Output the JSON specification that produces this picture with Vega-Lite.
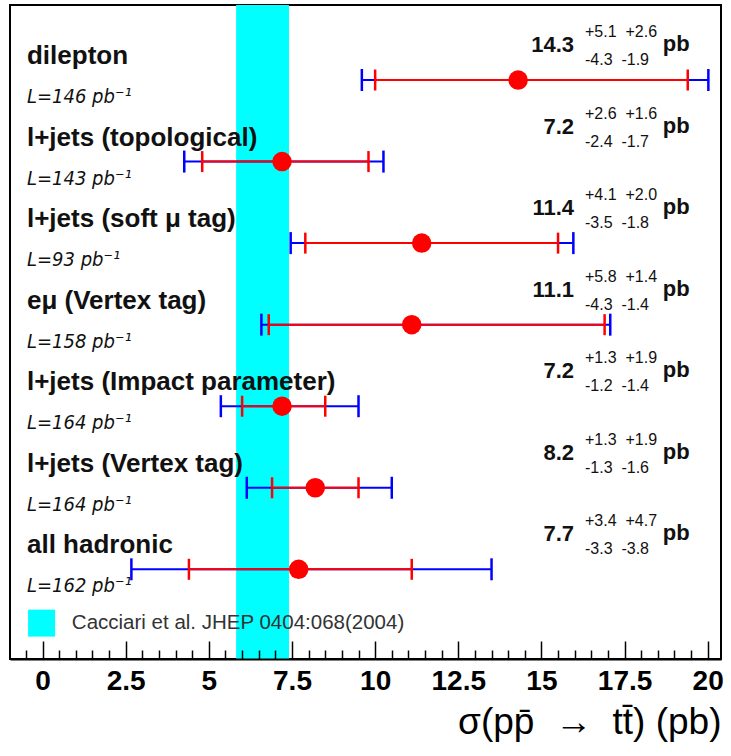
{
  "$schema": "https://vega.github.io/schema/vega-lite/v6.json",
  "width": 711,
  "height": 654,
  "autosize": {"type": "none"},
  "padding": {"left": 10, "top": 5, "right": 10, "bottom": 97},
  "background": "white",
  "config": {"view": {"stroke": "black", "strokeWidth": 2}, "font": "Liberation Sans"},
  "datasets": {
    "meas": [
      {"name": "dilepton", "lumi": "L=146 pb⁻¹", "row": 1, "sigma": 14.3, "up": "+5.1\u00a0\u00a0+2.6", "dn": "-4.3\u00a0\u00a0-1.9", "statlo": 10.0, "stathi": 19.4, "totlo": 9.6, "tothi": 20.02},
      {"name": "l+jets (topological)", "lumi": "L=143 pb⁻¹", "row": 2, "sigma": 7.2, "up": "+2.6\u00a0\u00a0+1.6", "dn": "-2.4\u00a0\u00a0-1.7", "statlo": 4.8, "stathi": 9.8, "totlo": 4.26, "tothi": 10.25},
      {"name": "l+jets (soft μ tag)", "lumi": "\u00a0L=93 pb⁻¹", "row": 3, "sigma": 11.4, "up": "+4.1\u00a0\u00a0+2.0", "dn": "-3.5\u00a0\u00a0-1.8", "statlo": 7.9, "stathi": 15.5, "totlo": 7.46, "tothi": 15.96},
      {"name": "eμ (Vertex tag)", "lumi": "L=158 pb⁻¹", "row": 4, "sigma": 11.1, "up": "+5.8\u00a0\u00a0+1.4", "dn": "-4.3\u00a0\u00a0-1.4", "statlo": 6.8, "stathi": 16.9, "totlo": 6.58, "tothi": 17.07},
      {"name": "l+jets (Impact parameter)", "lumi": "L=164 pb⁻¹", "row": 5, "sigma": 7.2, "up": "+1.3\u00a0\u00a0+1.9", "dn": "-1.2\u00a0\u00a0-1.4", "statlo": 6.0, "stathi": 8.5, "totlo": 5.36, "tothi": 9.5},
      {"name": "l+jets (Vertex tag)", "lumi": "L=164 pb⁻¹", "row": 6, "sigma": 8.2, "up": "+1.3\u00a0\u00a0+1.9", "dn": "-1.3\u00a0\u00a0-1.6", "statlo": 6.9, "stathi": 9.5, "totlo": 6.14, "tothi": 10.5},
      {"name": "all hadronic", "lumi": "L=162 pb⁻¹", "row": 7, "sigma": 7.7, "up": "+3.4\u00a0\u00a0+4.7", "dn": "-3.3\u00a0\u00a0-3.8", "statlo": 4.4, "stathi": 11.1, "totlo": 2.67, "tothi": 13.5}
    ],
    "band": [
      {"label": "Cacciari et al. JHEP 0404:068(2004)", "lo": 5.82, "hi": 7.41}
    ]
  },
  "encoding": {
    "x": {
      "type": "quantitative",
      "scale": {"domain": [-0.98, 20.4], "nice": false, "zero": false},
      "axis": {
        "orient": "bottom",
        "values": [-0.5, 0, 0.5, 1, 1.5, 2, 2.5, 3, 3.5, 4, 4.5, 5, 5.5, 6, 6.5, 7, 7.5, 8, 8.5, 9, 9.5, 10, 10.5, 11, 11.5, 12, 12.5, 13, 13.5, 14, 14.5, 15, 15.5, 16, 16.5, 17, 17.5, 18, 18.5, 19, 19.5, 20],
        "tickSize": {"condition": {"test": "datum.value % 2.5 === 0", "value": -18}, "value": -9},
        "tickColor": "black",
        "tickWidth": 1.5,
        "domainColor": "black",
        "domainWidth": 2,
        "grid": false,
        "labelExpr": "datum.value % 2.5 === 0 ? '' + datum.value : ''",
        "labelOverlap": false,
        "labelFlush": false,
        "labelBound": false,
        "labelFont": "Liberation Sans",
        "labelFontSize": 28,
        "labelFontWeight": "bold",
        "labelColor": "black",
        "labelPadding": 26,
        "titleFont": "Liberation Sans",
        "titleFontSize": 37,
        "titleFontWeight": "normal",
        "titleColor": "black",
        "titleAnchor": "end",
        "titlePadding": 0,
        "zindex": 1
      },
      "title": "σ(pp̄ \u00a0→\u00a0 tt̄) (pb)"
    },
    "y": {
      "type": "quantitative",
      "scale": {"domain": [0.08, 8.1], "reverse": true, "nice": false, "zero": false},
      "axis": null
    }
  },
  "layer": [
    {
      "data": {"name": "band"},
      "mark": {"type": "rect", "color": "#00ffff", "opacity": 1},
      "encoding": {
        "x": {"field": "lo", "type": "quantitative", "title": "σ(pp̄ \u00a0→\u00a0 tt̄) (pb)"},
        "x2": {"field": "hi"},
        "y": null
      }
    },
    {
      "data": {"name": "meas"},
      "mark": {"type": "rule", "color": "#0000ff", "strokeWidth": 2},
      "encoding": {
        "x": {"field": "totlo", "type": "quantitative", "title": "σ(pp̄ \u00a0→\u00a0 tt̄) (pb)"},
        "x2": {"field": "tothi"},
        "y": {"field": "row", "type": "quantitative"}
      }
    },
    {
      "data": {"name": "meas"},
      "mark": {"type": "tick", "orient": "vertical", "color": "#0000ff", "size": 22, "thickness": 2.5, "opacity": 1},
      "encoding": {
        "x": {"field": "totlo", "type": "quantitative", "title": "σ(pp̄ \u00a0→\u00a0 tt̄) (pb)"},
        "y": {"field": "row", "type": "quantitative"}
      }
    },
    {
      "data": {"name": "meas"},
      "mark": {"type": "tick", "orient": "vertical", "color": "#0000ff", "size": 22, "thickness": 2.5, "opacity": 1},
      "encoding": {
        "x": {"field": "tothi", "type": "quantitative", "title": "σ(pp̄ \u00a0→\u00a0 tt̄) (pb)"},
        "y": {"field": "row", "type": "quantitative"}
      }
    },
    {
      "data": {"name": "meas"},
      "mark": {"type": "rule", "color": "#ff0000", "strokeWidth": 2},
      "encoding": {
        "x": {"field": "statlo", "type": "quantitative", "title": "σ(pp̄ \u00a0→\u00a0 tt̄) (pb)"},
        "x2": {"field": "stathi"},
        "y": {"field": "row", "type": "quantitative"}
      }
    },
    {
      "data": {"name": "meas"},
      "mark": {"type": "tick", "orient": "vertical", "color": "#ff0000", "size": 21, "thickness": 2.5, "opacity": 1},
      "encoding": {
        "x": {"field": "statlo", "type": "quantitative", "title": "σ(pp̄ \u00a0→\u00a0 tt̄) (pb)"},
        "y": {"field": "row", "type": "quantitative"}
      }
    },
    {
      "data": {"name": "meas"},
      "mark": {"type": "tick", "orient": "vertical", "color": "#ff0000", "size": 21, "thickness": 2.5, "opacity": 1},
      "encoding": {
        "x": {"field": "stathi", "type": "quantitative", "title": "σ(pp̄ \u00a0→\u00a0 tt̄) (pb)"},
        "y": {"field": "row", "type": "quantitative"}
      }
    },
    {
      "data": {"name": "meas"},
      "mark": {"type": "circle", "color": "#ff0000", "size": 380, "opacity": 1},
      "encoding": {
        "x": {"field": "sigma", "type": "quantitative", "title": "σ(pp̄ \u00a0→\u00a0 tt̄) (pb)"},
        "y": {"field": "row", "type": "quantitative"}
      }
    },
    {
      "data": {"name": "meas"},
      "mark": {"type": "text", "align": "left", "baseline": "alphabetic", "dy": -16, "fontSize": 26, "fontWeight": "bold", "color": "#111111"},
      "encoding": {
        "x": {"datum": -0.47, "type": "quantitative", "title": "σ(pp̄ \u00a0→\u00a0 tt̄) (pb)"},
        "y": {"field": "row", "type": "quantitative"},
        "text": {"field": "name"}
      }
    },
    {
      "data": {"name": "meas"},
      "mark": {"type": "text", "align": "left", "baseline": "alphabetic", "dy": 23, "fontSize": 20, "fontStyle": "italic", "font": "DejaVu Sans Condensed, DejaVu Sans", "color": "#111111"},
      "encoding": {
        "x": {"datum": -0.47, "type": "quantitative", "title": "σ(pp̄ \u00a0→\u00a0 tt̄) (pb)"},
        "y": {"field": "row", "type": "quantitative"},
        "text": {"field": "lumi"}
      }
    },
    {
      "data": {"name": "meas"},
      "mark": {"type": "text", "align": "right", "baseline": "alphabetic", "dy": -28, "fontSize": 22, "fontWeight": "bold", "color": "#111111"},
      "encoding": {
        "x": {"datum": 15.98, "type": "quantitative", "title": "σ(pp̄ \u00a0→\u00a0 tt̄) (pb)"},
        "y": {"field": "row", "type": "quantitative"},
        "text": {"field": "sigma", "type": "quantitative", "format": ".1f"}
      }
    },
    {
      "data": {"name": "meas"},
      "mark": {"type": "text", "align": "left", "baseline": "alphabetic", "dy": -43, "fontSize": 16, "color": "#111111"},
      "encoding": {
        "x": {"datum": 16.31, "type": "quantitative", "title": "σ(pp̄ \u00a0→\u00a0 tt̄) (pb)"},
        "y": {"field": "row", "type": "quantitative"},
        "text": {"field": "up"}
      }
    },
    {
      "data": {"name": "meas"},
      "mark": {"type": "text", "align": "left", "baseline": "alphabetic", "dy": -15, "fontSize": 16, "color": "#111111"},
      "encoding": {
        "x": {"datum": 16.31, "type": "quantitative", "title": "σ(pp̄ \u00a0→\u00a0 tt̄) (pb)"},
        "y": {"field": "row", "type": "quantitative"},
        "text": {"field": "dn"}
      }
    },
    {
      "data": {"name": "meas"},
      "mark": {"type": "text", "align": "left", "baseline": "alphabetic", "dy": -29, "fontSize": 22, "fontWeight": "bold", "color": "#111111"},
      "encoding": {
        "x": {"datum": 18.65, "type": "quantitative", "title": "σ(pp̄ \u00a0→\u00a0 tt̄) (pb)"},
        "y": {"field": "row", "type": "quantitative"},
        "text": {"value": "pb"}
      }
    },
    {
      "data": {"name": "band"},
      "mark": {"type": "square", "color": "#00ffff", "filled": true, "size": 729, "opacity": 1},
      "encoding": {
        "x": {"datum": -0.03, "type": "quantitative", "title": "σ(pp̄ \u00a0→\u00a0 tt̄) (pb)"},
        "y": {"datum": 7.66, "type": "quantitative"}
      }
    },
    {
      "data": {"name": "band"},
      "mark": {"type": "text", "align": "left", "baseline": "middle", "fontSize": 20.5, "color": "#333333"},
      "encoding": {
        "x": {"datum": 0.88, "type": "quantitative", "title": "σ(pp̄ \u00a0→\u00a0 tt̄) (pb)"},
        "y": {"datum": 7.66, "type": "quantitative"},
        "text": {"field": "label"}
      }
    }
  ]
}
